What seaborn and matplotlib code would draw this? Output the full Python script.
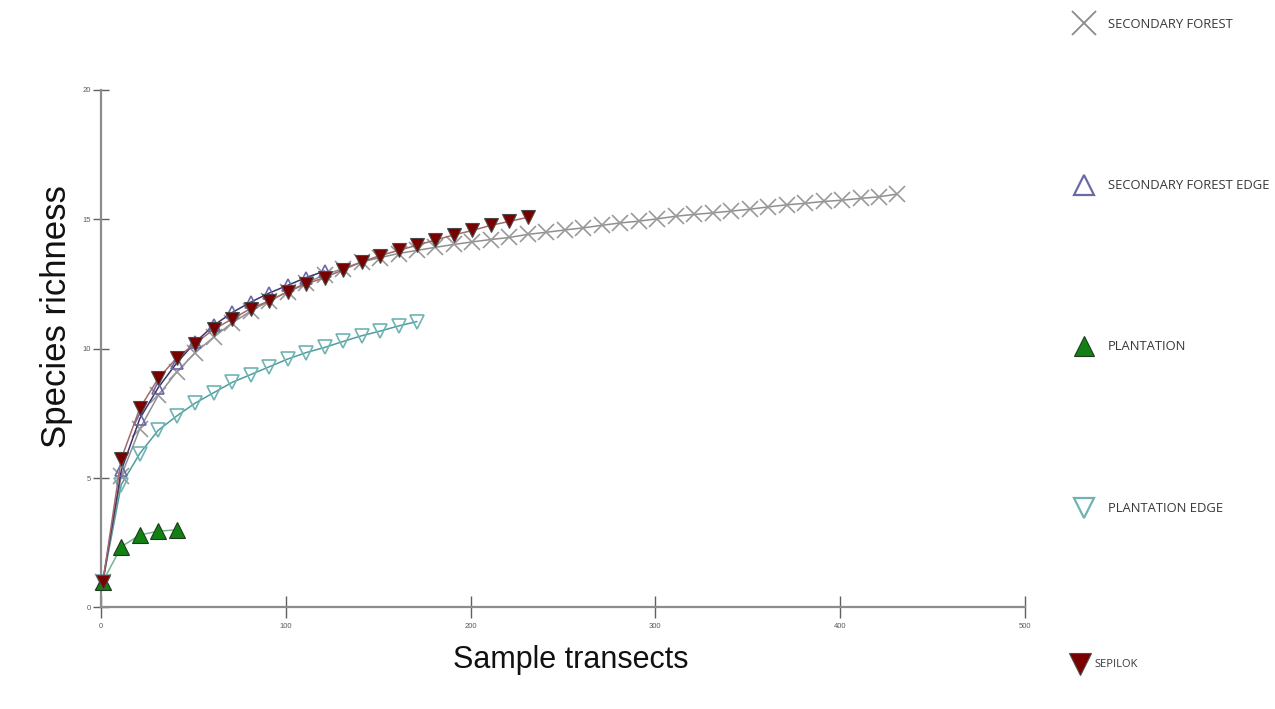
import matplotlib
matplotlib.use("Agg")
import matplotlib.pyplot as plt
import seaborn as sns
from matplotlib.lines import Line2D

# ---------------- data ----------------
transects = [1, 11, 21, 31, 41, 51, 61, 71, 81, 91,
             101, 111, 121, 131, 141, 151, 161, 171, 181, 191,
             201, 211, 221, 231, 241, 251, 261, 271, 281, 291,
             301, 311, 321, 331, 341, 351, 361, 371, 381, 391,
             401, 411, 421, 431]

secondary_forest = [1.0, 5.1, 6.9, 8.2, 9.1, 9.85, 10.45, 11.0, 11.45, 11.85,
                    12.2, 12.55, 12.85, 13.1, 13.35, 13.52, 13.68, 13.8, 13.92, 14.03,
                    14.13, 14.22, 14.3, 14.42, 14.5, 14.59, 14.67, 14.77, 14.86, 14.93,
                    15.02, 15.12, 15.19, 15.25, 15.32, 15.39, 15.48, 15.56, 15.62, 15.69,
                    15.74, 15.81, 15.87, 15.98]

secondary_forest_edge = [1.0, 5.3, 7.3, 8.5, 9.45, 10.25, 10.9, 11.4, 11.8, 12.15,
                         12.45, 12.75, 13.0]

plantation = [1.0, 2.35, 2.8, 2.95, 3.0]

plantation_edge = [1.0, 4.75, 5.95, 6.85, 7.4, 7.9, 8.3, 8.7, 9.0, 9.3,
                   9.6, 9.85, 10.05, 10.28, 10.5, 10.68, 10.88, 11.05]

sepilok = [1.0, 5.75, 7.7, 8.85, 9.65, 10.2, 10.75, 11.15, 11.55, 11.85,
           12.2, 12.5, 12.75, 13.05, 13.35, 13.6, 13.8, 14.0, 14.2, 14.4,
           14.57, 14.77, 14.92, 15.08]

labels = ["SECONDARY FOREST", "SECONDARY FOREST EDGE", "PLANTATION",
          "PLANTATION EDGE", "SEPILOK"]
x_ticks = [0, 100, 200, 300, 400, 500]
y_ticks = [0, 5, 10, 15, 20]

# ---------------- style ----------------
sns.set_style("white")
plt.rcParams["font.family"] = ["Liberation Sans", "DejaVu Sans"]

fig = plt.figure(figsize=(12.75, 7.09), dpi=100)
ax = fig.add_axes([0.0792, 0.1432, 0.7247, 0.7299])

styles = [
    dict(data=secondary_forest, line="#8f8f8f", marker="x", ms=11, mfc="#9a9a9a",
         mec="#9a9a9a", mew=1.2, z=3),
    dict(data=secondary_forest_edge, line="#3c3470", marker="^", ms=8, mfc="none",
         mec="#6a6aa8", mew=1.2, z=4),
    dict(data=plantation, line="#78b48c", marker="^", ms=11, mfc="#128012",
         mec="#1f3a1f", mew=0.8, z=5),
    dict(data=plantation_edge, line="#4f9d9d", marker="v", ms=10, mfc="none",
         mec="#6fb3b3", mew=1.2, z=2),
    dict(data=sepilok, line="#a46a6a", marker="v", ms=10, mfc="#7a0000",
         mec="#4a4a4a", mew=0.8, z=6),
]

for st in styles:
    vals = st["data"]
    sns.lineplot(x=transects[:len(vals)], y=vals, ax=ax, color=st["line"],
                 linewidth=1.1, marker=st["marker"], markersize=st["ms"],
                 markerfacecolor=st["mfc"], markeredgecolor=st["mec"],
                 markeredgewidth=st["mew"], errorbar=None, legend=False,
                 zorder=st["z"], clip_on=False)

ax.set_xlim(0, 500)
ax.set_ylim(0, 20)
ax.set_xticks(x_ticks)
ax.set_yticks(y_ticks)
ax.set_xticklabels([str(t) for t in x_ticks])
ax.set_yticklabels([str(t) for t in y_ticks])
for side in ["top", "right"]:
    ax.spines[side].set_visible(False)
for side in ["left", "bottom"]:
    ax.spines[side].set_color("#8c8c8c")
    ax.spines[side].set_linewidth(1.6)
ax.tick_params(axis="y", left=True, direction="inout", length=12, width=1.0,
               color="#606060", labelcolor="#5a5a5a", labelsize=5.5, pad=1)
ax.tick_params(axis="x", bottom=True, direction="inout", length=16, width=1.0,
               color="#606060", labelcolor="#5a5a5a", labelsize=5.5, pad=3)

ax.set_xlabel("Sample transects", fontsize=22, color="#111111", va="center")
ax.xaxis.set_label_coords(0.5087, -0.101)
ax.set_ylabel("Species richness", fontsize=25, color="#111111", va="center")
ax.yaxis.set_label_coords(-0.0476, 0.563)

# ---------------- legend (one entry per block) ----------------
legend_handles = [
    Line2D([], [], linestyle="None", marker="x", markersize=17, markeredgewidth=1.3,
           color="#8a8a8a"),
    Line2D([], [], linestyle="None", marker="^", markersize=15, markerfacecolor="none",
           markeredgecolor="#6a6aa8", markeredgewidth=1.6),
    Line2D([], [], linestyle="None", marker="^", markersize=15, markerfacecolor="#128012",
           markeredgecolor="#1f3a1f", markeredgewidth=0.8),
    Line2D([], [], linestyle="None", marker="v", markersize=15, markerfacecolor="none",
           markeredgecolor="#6fb3b3", markeredgewidth=1.6),
    Line2D([], [], linestyle="None", marker="v", markersize=16, markerfacecolor="#7a0000",
           markeredgecolor="#4a4a4a", markeredgewidth=0.8),
]
legend_x = [1071.5, 1071.5, 1071.5, 1071.5, 1068]
legend_y = [0.966, 0.7378, 0.5106, 0.2821, 0.0621]
legend_font = [9.4, 9.4, 9.4, 9.4, 8]
legend_pad = [0.95, 0.95, 0.95, 0.95, 0.2]
for h, lab, xx, yy, fs, pad in zip(legend_handles, labels, legend_x, legend_y,
                                   legend_font, legend_pad):
    fig.legend(handles=[h], labels=[lab], loc="center left",
               bbox_to_anchor=(xx / 1275, yy), frameon=False,
               borderaxespad=0, borderpad=0, handlelength=24 / (fs * 100 / 72),
               handletextpad=pad, prop={"family": "Open Sans", "size": fs},
               labelcolor="#383838")

fig.savefig("out.png", dpi=100, facecolor="white")
